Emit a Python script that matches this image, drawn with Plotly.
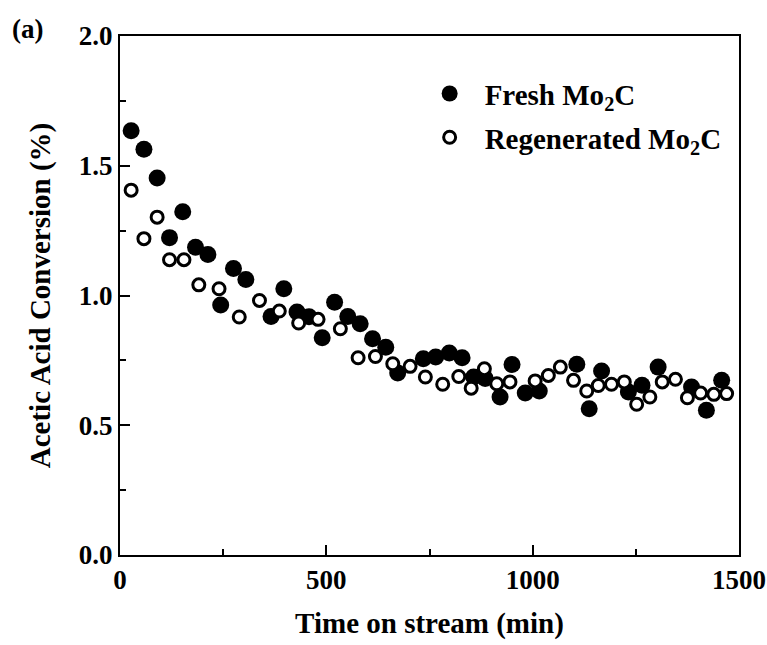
import plotly.graph_objects as go

# Acetic acid conversion vs. time on stream
fresh_t = [27, 58, 90, 120, 152, 183, 213, 244, 275, 305, 366, 397, 429, 458,
           490, 520, 552, 582, 612, 644, 673, 735, 765, 798, 829, 857, 885, 921,
           950, 982, 1016, 1107, 1137, 1167, 1232, 1265, 1304, 1385, 1421, 1458]
fresh_v = [1.635, 1.564, 1.453, 1.223, 1.323, 1.186, 1.158, 0.963, 1.104, 1.062,
           0.919, 1.026, 0.936, 0.918, 0.837, 0.974, 0.919, 0.891, 0.833, 0.801,
           0.701, 0.756, 0.763, 0.778, 0.760, 0.686, 0.680, 0.609, 0.734, 0.624,
           0.632, 0.735, 0.564, 0.709, 0.628, 0.654, 0.724, 0.647, 0.558, 0.673]

regen_t = [27, 58, 90, 120, 155, 191, 240, 289, 338, 386, 433, 480, 534, 577,
           619, 661, 703, 740, 782, 821, 851, 883, 913, 945, 1006, 1038, 1067,
           1099, 1131, 1159, 1191, 1222, 1252, 1284, 1314, 1346, 1375, 1407,
           1439, 1470]
regen_v = [1.406, 1.219, 1.302, 1.138, 1.138, 1.041, 1.026, 0.917, 0.981, 0.940,
           0.894, 0.908, 0.872, 0.760, 0.765, 0.737, 0.727, 0.686, 0.658, 0.688,
           0.643, 0.718, 0.660, 0.667, 0.671, 0.692, 0.724, 0.673, 0.632, 0.653,
           0.658, 0.667, 0.581, 0.609, 0.667, 0.677, 0.606, 0.624, 0.619, 0.622]

x_ticks = [0, 500, 1000, 1500]
y_ticks = [0.0, 0.5, 1.0, 1.5, 2.0]

FONT = "Liberation Serif"

fig = go.Figure()
fig.add_trace(go.Scatter(
    x=fresh_t, y=fresh_v, mode="markers", name="Fresh Mo<sub>2</sub>C",
    legendgroup="fresh",
    marker=dict(symbol="circle", size=17, color="black",
                line=dict(width=0)),
))
fig.add_trace(go.Scatter(
    x=regen_t, y=regen_v, mode="markers", name="Regenerated Mo<sub>2</sub>C",
    legendgroup="regen",
    marker=dict(symbol="circle", size=12, color="white",
                line=dict(width=3, color="black")),
))

axis_common = dict(
    showline=True, linecolor="black", linewidth=2, mirror=True,
    ticks="inside", ticklen=10, tickwidth=2, tickcolor="black",
    showgrid=False, zeroline=False, automargin=False,
    tickfont=dict(family=FONT, size=27, color="black", weight="bold"),
)

fig.update_xaxes(
    range=[0, 1500], tickvals=x_ticks, ticktext=[str(v) for v in x_ticks],
    minor=dict(ticks="inside", ticklen=6, tickwidth=2, tickcolor="black",
               dtick=250, tick0=0),
    title=dict(text="Time on stream (min)", standoff=18,
               font=dict(family=FONT, size=29, color="black", weight="bold")),
    **axis_common,
)
fig.update_yaxes(
    range=[0, 2.0], tickvals=y_ticks, ticktext=[f"{v:.1f}" for v in y_ticks],
    minor=dict(ticks="inside", ticklen=6, tickwidth=2, tickcolor="black",
               dtick=0.25, tick0=0),
    title=dict(text="Acetic Acid Conversion (%)", standoff=20,
               font=dict(family=FONT, size=29, color="black", weight="bold")),
    **axis_common,
)

fig.add_annotation(
    text="(a)", xref="paper", yref="paper", x=-0.178, y=1.046,
    xanchor="left", yanchor="top", showarrow=False,
    font=dict(family=FONT, size=27, color="black", weight="bold"),
)

fig.update_layout(
    width=767, height=645,
    margin=dict(l=120, r=28, t=36, b=90),
    plot_bgcolor="white", paper_bgcolor="white",
    showlegend=True,
    legend=dict(x=0.476, y=0.938, xanchor="left", yanchor="top",
                bgcolor="rgba(0,0,0,0)", tracegroupgap=3, itemwidth=60,
                font=dict(family=FONT, size=29, color="black", weight="bold")),
)

fig.write_html("out.html")
